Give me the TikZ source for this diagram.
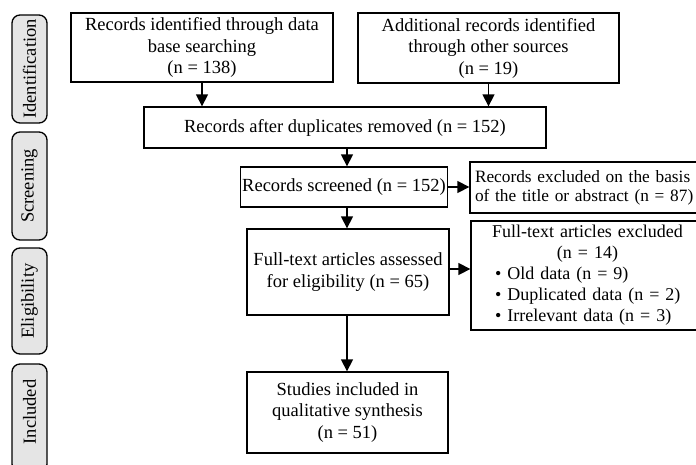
\documentclass[tikz,border=0pt]{standalone}
\usepackage{fontspec}
\setmainfont{Liberation Serif}
\usetikzlibrary{arrows.meta,calc}
\begin{document}
\begin{tikzpicture}[x=1pt,y=-1pt,
  box/.style={draw, line width=1.3pt, inner sep=2pt, align=center, font=\fontsize{18.5}{21.5}\selectfont},
  side/.style={draw, line width=1.3pt, rounded corners=8pt, fill=black!10, rotate=90, minimum height=35pt, inner sep=0pt, font=\fontsize{18.5}{21}\selectfont},
  arr/.style={line width=1.3pt, -{Triangle[length=12pt,width=12pt]}}]
\useasboundingbox (0,0) rectangle (696,464);
\begin{scope}
\clip (0,0) rectangle (696,464);
% side labels
\node[side, minimum width=108pt] (sid) at (29.5,69) {Identification};
\node[side, minimum width=108pt] (ssc) at (29.5,186) {Screening};
\node[side, minimum width=106pt] (sel) at (29.5,301) {Eligibility};
\node[side, minimum width=108pt] (sin) at (29.5,418) {\hspace{12pt}Included};
% boxes
\node[box, minimum width=262pt, minimum height=69pt] (box1) at (202,47.5)
  {Records identified through data\\base searching\\(n = 138)};
\node[box, minimum width=261pt, minimum height=70pt] (box2) at (488.5,48)
  {Additional records identified\\through other sources\\(n = 19)};
\node[box, minimum width=402pt, minimum height=41pt] (box3) at (345,127.5)
  {Records after duplicates removed (n = 152)};
\node[box, minimum width=206pt, minimum height=40pt] (box4) at (344,187)
  {Records screened (n = 152)};
\node[box, minimum width=202pt, minimum height=86pt] (box5) at (348,272)
  {Full-text articles assessed\\for eligibility (n = 65)};
\node[box, minimum width=201pt, minimum height=81pt] (box6) at (347.5,412.5)
  {Studies included in\\qualitative synthesis\\(n = 51)};
\node[box, minimum width=270pt, minimum height=51pt, text width=260pt, inner xsep=5pt, align=left,
  font=\fontsize{17.3}{19}\selectfont] (box7) at (605,187.5)
  {Records excluded on the basis\\of the title or abstract (n = 87)};
\node[box, minimum width=270pt, minimum height=107pt, text width=260pt, inner xsep=5pt, align=left,
  font=\fontsize{18}{21}\selectfont] (box8) at (606,275.5)
  {\hspace*{16pt}\begin{tabular}{@{}l@{}}
   \multicolumn{1}{@{}c@{}}{Full-text articles excluded}\\
   \multicolumn{1}{@{}c@{}}{(n = 14)}\\
   \hspace*{3pt}• Old data (n = 9)\\
   \hspace*{3pt}• Duplicated data (n = 2)\\
   \hspace*{3pt}• Irrelevant data (n = 3)
   \end{tabular}};
% connectors
\coordinate (col) at (347,0);
\draw[arr] (box1.south) -- (box1.south |- box3.north);
\draw[arr] (box2.south) -- (box2.south |- box3.north);
\draw[arr] (col |- box3.south) -- (col |- box4.north);
\draw[arr] (col |- box4.south) -- (col |- box5.north);
\draw[arr] (col |- box5.south) -- (col |- box6.north);
\draw[arr] (box4.east) -- (box4.east -| box7.west);
\coordinate (r5) at ($(box5.east)+(0,-3)$);
\draw[arr] (r5) -- (r5 -| box8.west);
\end{scope}
\end{tikzpicture}
\end{document}
